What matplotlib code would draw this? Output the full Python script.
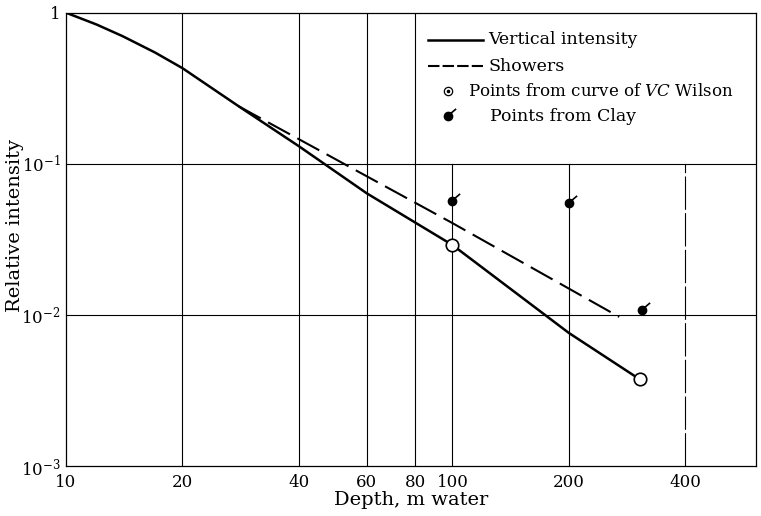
import matplotlib
matplotlib.use("Agg")
from matplotlib import pyplot as plt
from matplotlib.path import Path

plt.rcParams["font.family"] = "DejaVu Serif"
plt.rcParams["mathtext.fontset"] = "dejavuserif"

# vertical intensity curve (depth in m water, relative intensity)
depth_vert = [10, 12, 14, 17, 20, 28, 40, 60, 100, 200, 305]
rel_vert = [1.0, 0.835, 0.70, 0.545, 0.43, 0.24, 0.131, 0.0638, 0.029, 0.0076, 0.00375]

# showers
depth_show = [28, 100, 270]
rel_show = [0.24, 0.0405, 0.0097]

# points from curve of V.C. Wilson
depth_wilson = [100, 305]
rel_wilson = [0.029, 0.00375]

# points from Clay
depth_clay = [100, 200, 310]
rel_clay = [0.0565, 0.055, 0.0107]

xticks = [10, 20, 40, 60, 80, 100, 200, 400]
yticks = [1e-3, 1e-2, 1e-1, 1]
ytick_labels = [r"$10^{-3}$", r"$10^{-2}$", r"$10^{-1}$", "1"]

# filled dot with a little tail, as used for Clay's points
circ = Path.circle((0, 0), 1.0)
tail = Path([(0.6, 0.8), (1.9, 1.9)], [Path.MOVETO, Path.LINETO])
clay_marker = Path.make_compound_path(circ, tail)

fig = plt.figure(figsize=(7.61, 5.16), dpi=100)
ax = fig.add_axes([0.0867, 0.0969, 0.9067, 0.8785])
ax.set_xscale("log")
ax.set_yscale("log")
ax.set_xlim(10, 610)
ax.set_ylim(1e-3, 1)

# grid: the lines right of 80 stop at 10^-1 under the key
for x in [20, 40, 60, 80]:
    ax.axvline(x, color="black", lw=0.8, zorder=1)
for x in [100, 200]:
    ax.axvline(x, ymax=2 / 3, color="black", lw=0.8, zorder=1)
ax.axvline(400, ymax=2 / 3, color="black", lw=0.8, dashes=(30, 3), zorder=1)
for y in [1e-1, 1e-2]:
    ax.axhline(y, color="black", lw=0.8, zorder=1)

ax.plot(depth_vert, rel_vert, color="black", lw=1.8, zorder=3)
ax.plot(depth_show, rel_show, color="black", lw=1.5, dashes=(12, 4), zorder=3)
ax.plot(depth_wilson, rel_wilson, "o", ms=9, mfc="white", mec="black", mew=1.2, zorder=4)
ax.plot(depth_clay, rel_clay, ls="none", marker=clay_marker, ms=11, color="black",
        mew=1.2, zorder=4)

ax.set_xticks(xticks)
ax.set_xticklabels([str(x) for x in xticks])
ax.set_yticks(yticks)
ax.set_yticklabels(ytick_labels)
ax.minorticks_off()
ax.tick_params(length=0, labelsize=12)
ax.tick_params(axis="x", pad=6)
ax.tick_params(axis="y", pad=4)
for s in ax.spines.values():
    s.set_linewidth(0.9)

ax.set_xlabel("Depth, m water", fontsize=14, labelpad=0)
ax.set_ylabel("Relative intensity", fontsize=14, va="center")
ax.yaxis.set_label_coords(-0.074, 0.53)

# key
tr = ax.transAxes
rows = [0.940, 0.882, 0.827, 0.772]
ax.plot([0.525, 0.604], [rows[0]] * 2, color="black", lw=1.8, transform=tr)
ax.plot([0.525, 0.604], [rows[1]] * 2, color="black", lw=1.5, dashes=(5.5, 1.5), transform=tr)
ax.plot([0.554], [rows[2]], "o", ms=6, mfc="white", mec="black", mew=0.9, transform=tr)
ax.plot([0.554], [rows[2]], "o", ms=1.6, color="black", transform=tr)
ax.plot([0.554], [rows[3]], ls="none", marker=clay_marker, ms=11, color="black",
        mew=1.2, transform=tr)
ax.text(0.612, rows[0], "Vertical intensity", fontsize=12.5, va="center", transform=tr)
ax.text(0.612, rows[1], "Showers", fontsize=12.5, va="center", transform=tr)
ax.text(0.583, rows[2], r"Points from curve of $\it{VC}$ Wilson", fontsize=12,
        va="center", transform=tr)
ax.text(0.614, rows[3], "Points from Clay", fontsize=12.5, va="center", transform=tr)

fig.savefig("out.png", dpi=100)
